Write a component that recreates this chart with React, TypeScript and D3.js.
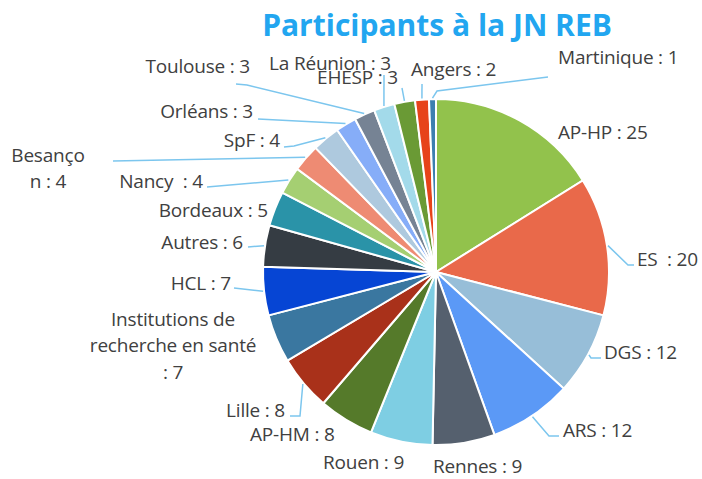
import * as d3 from "d3";
import React, { useRef, useEffect } from "react";

// participants par structure, dans l'ordre horaire depuis midi
const names = [
  "AP-HP", "ES", "DGS", "ARS", "Rennes", "Rouen", "AP-HM", "Lille",
  "Institutions de recherche en santé", "HCL", "Autres", "Bordeaux", "Nancy",
  "Besançon", "SpF", "Orléans", "Toulouse", "La Réunion", "EHESP", "Angers", "Martinique",
];
const counts = [25, 20, 12, 12, 9, 9, 8, 8, 7, 7, 6, 5, 4, 4, 4, 3, 3, 3, 3, 2, 1];
const colors = [
  "#92c24c", "#e9694a", "#97bed8", "#5b99f6", "#55606e", "#7ecee3", "#557a2a", "#a9311a",
  "#3a77a0", "#0645d4", "#353c43", "#2a93a8", "#a5cf72", "#ee8b73", "#aec9de", "#86adf8",
  "#768394", "#a3daea", "#6a9a35", "#e7431a", "#3c7fb0",
];
// texte affiché (retours à la ligne comme sur l'original)
const labelLines = [
  ["AP-HP : 25"], ["ES\u00a0 : 20"], ["DGS : 12"], ["ARS : 12"], ["Rennes : 9"], ["Rouen : 9"],
  ["AP-HM : 8"], ["Lille : 8"], ["Institutions de", "recherche en santé", ": 7"], ["HCL : 7"],
  ["Autres : 6"], ["Bordeaux : 5"], ["Nancy\u00a0 : 4"], ["Besanço", "n : 4"], ["SpF : 4"],
  ["Orléans : 3"], ["Toulouse : 3"], ["La Réunion : 3"], ["EHESP : 3"], ["Angers : 2"], ["Martinique : 1"],
];

// placement des étiquettes: x, y (milieu de la 1re ligne), ancre, points du trait de rappel
const labelPos = [
  { x: 558, y: 132, a: "start", line: null },
  { x: 637, y: 259, a: "start", line: [[628, 265], [634, 265]] },
  { x: 604, y: 352, a: "start", line: [[591, 358], [601, 358]] },
  { x: 563, y: 430, a: "start", line: [[549, 436], [559, 436]] },
  { x: 433, y: 466, a: "start", line: null },
  { x: 323, y: 462, a: "start", line: null },
  { x: 250, y: 434, a: "start", line: null },
  { x: 285, y: 410, a: "end", line: [[300, 416], [290, 416]] },
  { x: 173, y: 319, a: "middle", line: null },
  { x: 231, y: 283, a: "end", line: [[234, 288]] },
  { x: 243, y: 242, a: "end", line: [[248, 247]] },
  { x: 268, y: 210, a: "end", line: null },
  { x: 203, y: 181, a: "end", line: [[207, 187]] },
  { x: 48, y: 155, a: "middle", line: [[113, 161]] },
  { x: 280, y: 140, a: "end", line: [[294, 146], [284, 147]] },
  { x: 253, y: 111, a: "end", line: [[258, 119]] },
  { x: 250, y: 66, a: "end", line: [[247, 85], [236, 84]] },
  { x: 391, y: 63, a: "end", line: [[384, 75]] },
  { x: 398, y: 77, a: "end", line: [[402, 88]] },
  { x: 411, y: 69, a: "start", line: [[422, 84]] },
  { x: 558, y: 57, a: "start", line: [[437, 91], [548, 77]] },
];

const cx = 436, cy = 272, radius = 173;

function App() {
  const ref = useRef();

  useEffect(() => {
    const svg = d3.select(ref.current);
    svg.selectAll("*").remove();

    svg.append("text")
      .attr("x", 437)
      .attr("y", 36)
      .attr("text-anchor", "middle")
      .style("font-family", "'Open Sans', sans-serif")
      .style("font-weight", "bold")
      .style("font-size", "30px")
      .style("fill", "#22a6f0")
      .text("Participants à la JN REB");

    const data = names.map((n, i) => ({ name: n, value: counts[i], i }));
    const pie = d3.pie().value((d) => d.value).sort(null);
    const arcs = pie(data);
    const arc = d3.arc().innerRadius(0).outerRadius(radius);

    const g = svg.append("g").attr("transform", "translate(" + cx + "," + cy + ")");
    g.selectAll("path")
      .data(arcs)
      .enter()
      .append("path")
      .attr("d", arc)
      .style("fill", (d) => colors[d.data.i])
      .style("stroke", "#fff")
      .style("stroke-width", 2);

    // traits de rappel
    const line = d3.line();
    arcs.forEach((d, i) => {
      const p = labelPos[i];
      if (!p.line) return;
      const mid = (d.startAngle + d.endAngle) / 2;
      const r = radius + 1;
      const start = [cx + r * Math.sin(mid), cy - r * Math.cos(mid)];
      svg.append("path")
        .attr("d", line([start, ...p.line]))
        .style("fill", "none")
        .style("stroke", "#7cc6ee")
        .style("stroke-width", 1.5);
    });

    // étiquettes
    labelLines.forEach((lines, i) => {
      const p = labelPos[i];
      const t = svg.append("text")
        .attr("x", p.x)
        .attr("y", p.y)
        .attr("text-anchor", p.a)
        .style("font-family", "'Open Sans', sans-serif")
        .style("font-size", "19px")
        .style("letter-spacing", "-0.2px")
        .style("fill", "#404040");
      lines.forEach((s, k) => {
        t.append("tspan")
          .attr("x", p.x)
          .attr("y", p.y + k * 26.5)
          .attr("dy", "0.35em")
          .text(s);
      });
    });
  }, []);

  return (
    <svg ref={ref} width={702} height={479} style={{ position: "absolute", left: 0, top: 0, background: "#fff" }}></svg>
  );
}

export default App;
